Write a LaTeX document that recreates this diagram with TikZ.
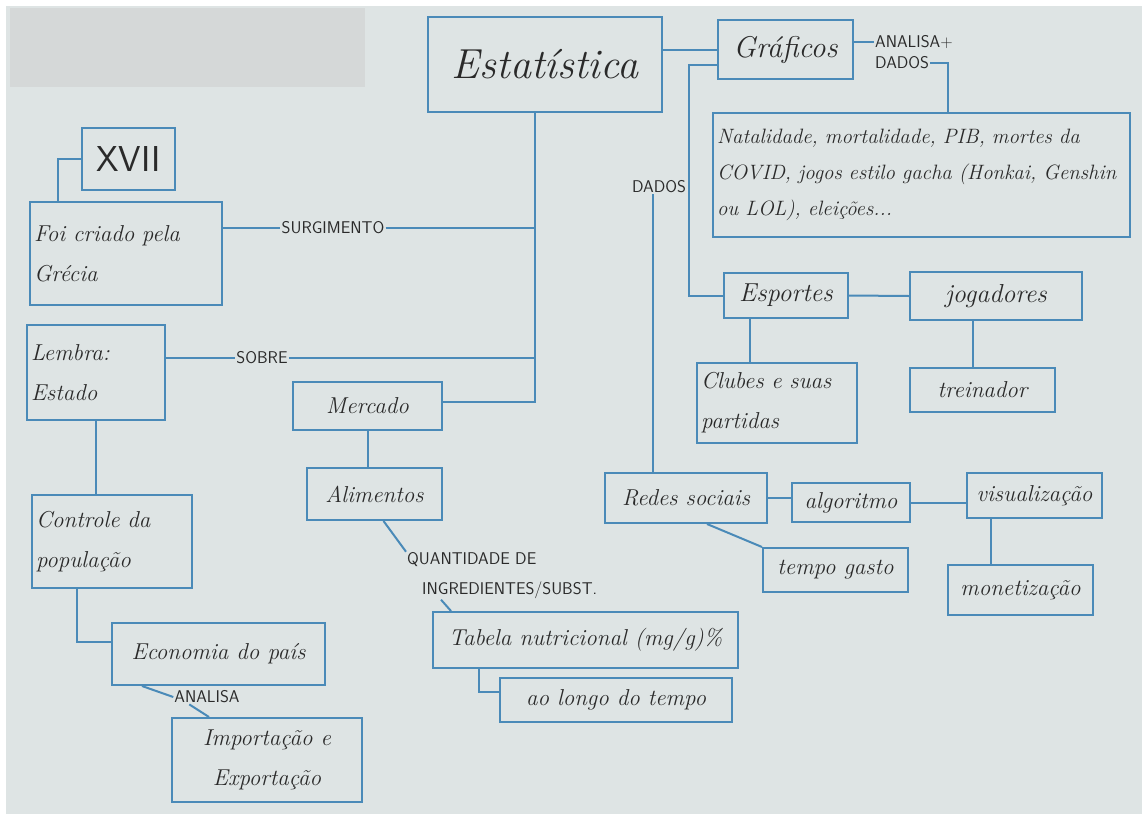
\documentclass[tikz,border=0pt]{standalone}
\usepackage{fontspec}
\definecolor{paper}{HTML}{DEE4E4}
\definecolor{ink}{HTML}{4A8AB8}
\definecolor{pencil}{HTML}{2A2A2A}
\definecolor{redact}{HTML}{D5D8D8}
\newcommand\handfont{\fontsize{23}{40}\selectfont\itshape}
\newcommand\capsfont{\fontsize{17}{22}\selectfont\sffamily}
\tikzstyle{box}=[draw=ink, line width=2pt, inner sep=4pt, text=pencil, font=\handfont]
\tikzstyle{tag}=[inner sep=1pt, text=pencil, font=\capsfont]
\tikzstyle{link}=[draw=ink, line width=2pt]

\begin{document}
\begin{tikzpicture}[x=1pt, y=-1pt]
% Paper
    \useasboundingbox (0,0) rectangle (1142,814);
    \fill[white] (0,0) rectangle (1142,814);
    \fill[paper] (6,6) rectangle (1142,814);
    \fill[redact] (10,8) rectangle (365,87);
% Boxes
    \node[box, minimum width=234pt, minimum height=95pt, font=\fontsize{42}{50}\selectfont\itshape] (est) at (545,64.5) {Estatística};
    \node[box, minimum width=135pt, minimum height=59pt, font=\fontsize{30}{36}\selectfont\itshape] (graf) at (785.5,49.5) {Gráficos};
    \node[box, minimum width=417pt, minimum height=124pt, text width=409pt, align=left, font=\fontsize{20.8}{36}\selectfont\itshape] (nat) at (921.5,175) {Natalidade, mortalidade, PIB, mortes da\\COVID, jogos estilo gacha (Honkai, Genshin\\ou LOL), eleições...};
    \node[box, minimum width=93pt, minimum height=62pt, font=\fontsize{36}{40}\selectfont\sffamily] (xvii) at (128.5,159) {XVII};
    \node[box, minimum width=192pt, minimum height=103pt, text width=184pt, align=left] (foi) at (126,253.5) {Foi criado pela\\Grécia};
    \node[box, minimum width=138pt, minimum height=95pt, text width=130pt, align=left] (lem) at (96,372.5) {Lembra:\\Estado};
    \node[box, minimum width=160pt, minimum height=93pt, text width=152pt, align=left] (ctl) at (112,541.5) {Controle da\\população};
    \node[box, minimum width=213pt, minimum height=62pt] (eco) at (218.5,654) {Economia do país};
    \node[box, minimum width=190pt, minimum height=84pt, align=center] (imp) at (267,760) {Importação e\\Exportação};
    \node[box, minimum width=149pt, minimum height=48pt] (mer) at (367.5,406) {Mercado};
    \node[box, minimum width=135pt, minimum height=52pt] (ali) at (374.5,494) {Alimentos};
    \node[box, minimum width=305pt, minimum height=56pt] (tab) at (585.5,640) {Tabela nutricional (mg/g)\%};
    \node[box, minimum width=232pt, minimum height=44pt] (ao) at (616,700) {ao longo do tempo};
    \node[box, minimum width=124pt, minimum height=45pt, font=\fontsize{26}{30}\selectfont\itshape] (esp) at (786,295.5) {Esportes};
    \node[box, minimum width=172pt, minimum height=48pt, font=\fontsize{26}{30}\selectfont\itshape] (jog) at (996,296) {jogadores};
    \node[box, minimum width=160pt, minimum height=80pt, text width=152pt, align=left] (clu) at (777,403) {Clubes e suas\\partidas};
    \node[box, minimum width=145pt, minimum height=44pt] (tre) at (982.5,390) {treinador};
    \node[box, minimum width=162pt, minimum height=50pt] (red) at (686,498) {Redes sociais};
    \node[box, minimum width=118pt, minimum height=39pt] (alg) at (851,502.5) {algoritmo};
    \node[box, minimum width=135pt, minimum height=45pt] (vis) at (1034.5,495.5) {visualização};
    \node[box, minimum width=145pt, minimum height=50pt] (mon) at (1020.5,590) {monetização};
    \node[box, minimum width=145pt, minimum height=44pt] (tem) at (835.5,570) {tempo gasto};
% Labels on the links
    \node[tag] (surg) at (333,228) {SURGIMENTO};
    \node[tag] (sob) at (262,358) {SOBRE};
    \node[tag] (anlc) at (207,697) {ANALISA};
    \node[tag, anchor=west] (qtda) at (406,560) {QUANTIDADE DE};
    \node[tag, anchor=west] (qtdb) at (421,590) {INGREDIENTES/SUBST.};
    \node[tag] (dados) at (659,187) {DADOS};
    \node[tag, anchor=west] (anla) at (874,42) {ANALISA+};
    \node[tag, anchor=west] (anlb) at (874,63) {DADOS};
% Top links
    \draw[link] (graf.west) -- (graf.west -| est.east);
    \draw[link] ([yshift=-15pt]graf.west) -| ([xshift=-34pt]esp.west) -- (esp.west);
    \draw[link] (graf.east |- anla.west) -- (anla.west);
    \draw[link] (anlb.east) -| ([xshift=26.5pt]nat.north);
% Spine under Estatistica
    \coordinate (spine) at ([xshift=-10pt]est.south);
    \draw[link] (spine) |- ([yshift=4pt]mer.east);
    \draw[link] (foi.east |- surg.west) -- (surg.west);
    \draw[link] (surg.east) -- (surg.east -| spine);
    \draw[link] (lem.east |- sob.west) -- (sob.west);
    \draw[link] (sob.east) -- (sob.east -| spine);
% Left column
    \draw[link] (xvii.west) -| ([xshift=-68pt]foi.north);
    \draw[link] (lem.south) -- (lem.south |- ctl.north);
    \draw[link] ([xshift=-35pt]ctl.south) |- ([yshift=12pt]eco.west);
    \draw[link] ([xshift=31pt]eco.south west) -- (anlc.west);
    \draw[link] ([xshift=16pt]anlc.south west) -- ([xshift=38pt]imp.north west);
% Mercado branch
    \draw[link] (mer.south) -- (mer.south |- ali.north);
    \draw[link] ([xshift=9pt]ali.south) -- (qtda.north west);
    \draw[link] ([xshift=20pt]qtdb.south west) -- ([xshift=19pt]tab.north west);
    \draw[link] ([xshift=-107pt]tab.south) |- ([yshift=8pt]ao.west);
% Right side
    \draw[link] (esp.east) -- (jog.west);
    \draw[link] ([xshift=-36pt]esp.south) -- ([xshift=-36pt]esp.south |- clu.north);
    \draw[link] ([xshift=-23pt]jog.south) -- ([xshift=-23pt]jog.south |- tre.north);
    \draw[link] ([xshift=-6pt]dados.south) -- ([xshift=-6pt]dados.south |- red.north);
    \draw[link] (red.east) -- (red.east -| alg.west);
    \draw[link] (alg.east) -- (alg.east -| vis.west);
    \draw[link] ([xshift=-44pt]vis.south) -- ([xshift=-44pt]vis.south |- mon.north);
    \draw[link] ([xshift=21pt]red.south) -- (tem.north west);
\end{tikzpicture}
\end{document}
